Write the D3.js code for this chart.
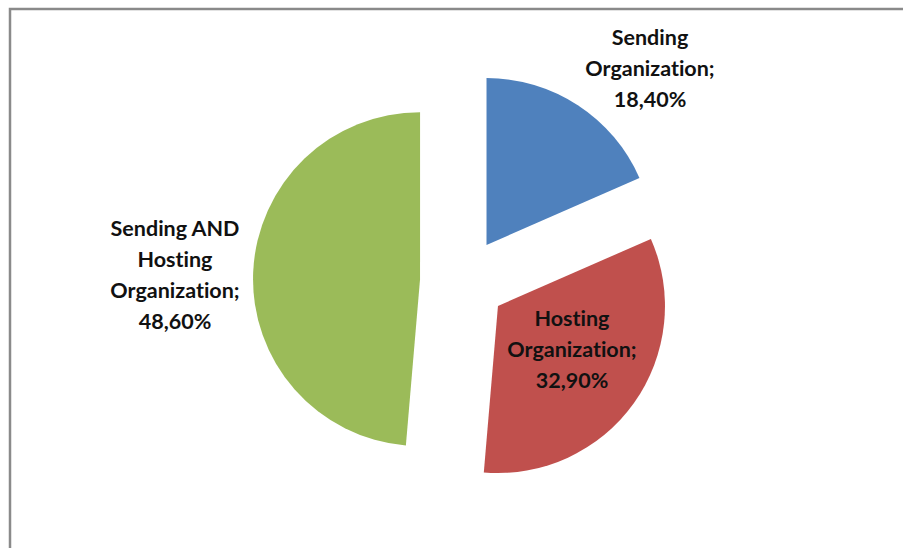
<!DOCTYPE html>
<html>
<head>
<meta charset="utf-8">
<script src="https://cdn.jsdelivr.net/npm/d3@7"></script>
<style>
  html, body { margin: 0; padding: 0; background: #fff; }
  svg { display: block; }
  text { font-variant-ligatures: none; font-feature-settings: "liga" 0, "clig" 0; }
</style>
</head>
<body>
<svg id="chart" width="903" height="548"></svg>
<script>
// Share of placements by organization type
const categories = ["Sending Organization", "Hosting Organization", "Sending AND Hosting Organization"];
const values = [18.4, 32.9, 48.6];
const valueLabels = ["18,40%", "32,90%", "48,60%"];
const colors = ["#4F81BD", "#C0504D", "#9BBB59"];

// label line breaks and anchor points (layout)
const labelLines = [
  ["Sending", "Organization;", valueLabels[0]],
  ["Hosting", "Organization;", valueLabels[1]],
  ["Sending AND", "Hosting", "Organization;", valueLabels[2]]
];
const labelPos = [[650, 37], [572, 318], [175, 228]];

const W = 903, H = 548;
const cx = 463, cy = 281, R = 167, explode = 43;
const svg = d3.select("#chart");

// chart frame
svg.append("rect")
  .attr("x", 10).attr("y", 9)
  .attr("width", W + 20).attr("height", H + 20)
  .attr("fill", "#fff")
  .attr("stroke", "#8a8a8a")
  .attr("stroke-width", 2.5);

const pie = d3.pie().sort(null).value(d => d)(values);
const arc = d3.arc().innerRadius(0).outerRadius(R);

const g = svg.append("g").attr("transform", `translate(${cx},${cy})`);

g.selectAll("path")
  .data(pie)
  .join("path")
  .attr("d", arc)
  .attr("fill", (d, i) => colors[i])
  .attr("transform", d => {
    const a = (d.startAngle + d.endAngle) / 2;
    return `translate(${explode * Math.sin(a)},${-explode * Math.cos(a)})`;
  });

const lineH = 31.3;
labelLines.forEach((lines, i) => {
  const t = svg.append("text")
    .attr("text-anchor", "middle")
    .attr("font-family", "Lato, 'Open Sans', sans-serif")
    .attr("font-weight", "bold")
    .attr("font-size", 21.5)
    .attr("fill", "#111");
  lines.forEach((s, k) => {
    t.append("tspan")
      .attr("x", labelPos[i][0])
      .attr("y", labelPos[i][1] + k * lineH)
      .attr("dy", "0.35em")
      .text(s);
  });
});
</script>
</body>
</html>
